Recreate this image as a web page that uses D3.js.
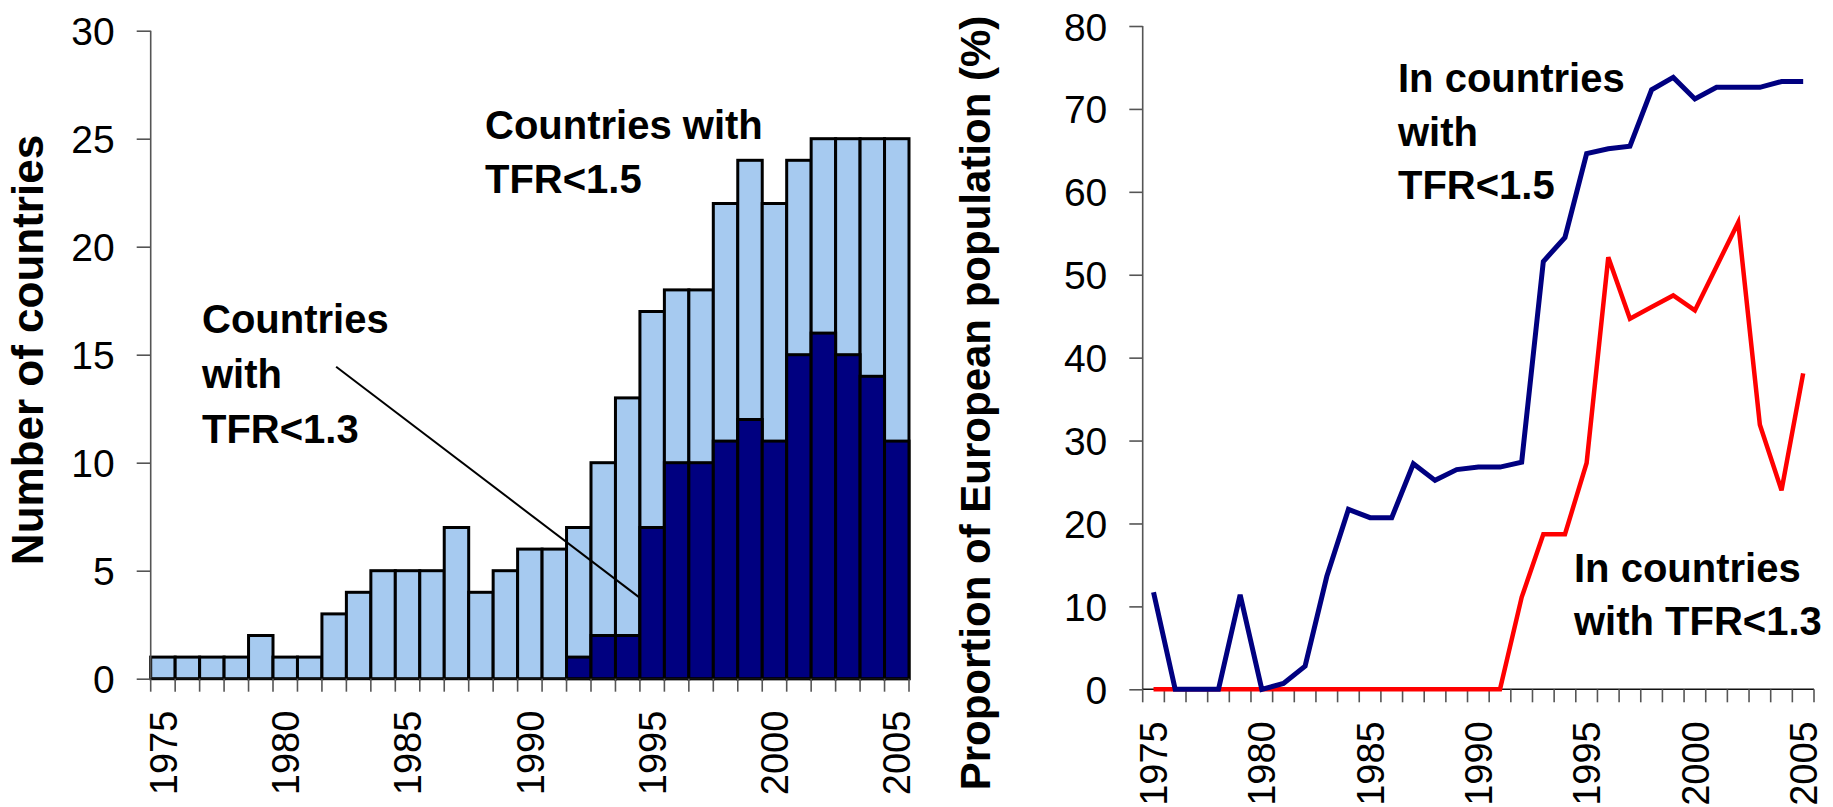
<!DOCTYPE html>
<html><head><meta charset="utf-8">
<script src="https://cdn.jsdelivr.net/npm/d3@7"></script>
<style>
body{margin:0;background:#fff}
svg{display:block}
text{font-family:"Liberation Sans", Arial, sans-serif;fill:#000}
</style>
</head><body>
<svg id="c" width="1833" height="807"></svg>
<script>
// ---------- data ----------
const years = [1975,1976,1977,1978,1979,1980,1981,1982,1983,1984,1985,1986,1987,1988,1989,1990,
               1991,1992,1993,1994,1995,1996,1997,1998,1999,2000,2001,2002,2003,2004,2005];
const yearTickLabels = [1975,1980,1985,1990,1995,2000,2005];
// number of countries
const countriesTFR15 = [1,1,1,1,2,1,1,3,4,5,5,5,7,4,5,6,6,7,10,13,17,18,18,22,24,22,24,25,25,25,25];
const countriesTFR13 = [0,0,0,0,0,0,0,0,0,0,0,0,0,0,0,0,0,1,2,2,7,10,10,11,12,11,15,16,15,14,11];
const countTicks = [0,5,10,15,20,25,30];
// proportion of European population (%)
const popTFR15 = [11.7,0,0,0,11.4,0,0.7,2.8,13.6,21.7,20.7,20.7,27.2,25.2,26.5,26.8,26.8,27.4,
                  51.6,54.5,64.6,65.2,65.5,72.3,73.8,71.2,72.6,72.6,72.6,73.3,73.3];
const popTFR13 = [0,0,0,0,0,0,0,0,0,0,0,0,0,0,0,0,0,11.1,18.7,18.7,27.3,52.1,44.7,46.1,47.5,45.7,
                  51.0,56.3,31.9,24.0,38.1];
const popTicks = [0,10,20,30,40,50,60,70,80];

// ---------- styling ----------
const C = {light:"#A6CAF0", dark:"#000080", blue:"#000080", red:"#FF0000", axis:"#555"};
const YTICK_FS = 39, XTICK_FS = 38, ANN_FS = 40;

const svg = d3.select("#c");

function drawAxes(g, x, y, yTicks, tickLen) {
  // y axis
  const ya = g.append("g").attr("transform", `translate(${x.range()[0]},0)`)
    .call(d3.axisLeft(y).tickValues(yTicks).tickSize(tickLen).tickSizeOuter(0).tickPadding(22));
  ya.selectAll("path,line").attr("stroke", C.axis).attr("stroke-width", 1.6);
  ya.selectAll("text").style("font-size", YTICK_FS + "px").attr("dy", "0.36em");
  ya.select(".domain").remove();
  g.append("line").attr("x1", x.range()[0]).attr("x2", x.range()[0])
    .attr("y1", y(y.domain()[0])).attr("y2", y(y.domain()[1]))
    .attr("stroke", C.axis).attr("stroke-width", 1.6);
  // x axis baseline
  const y0 = y(0);
  g.append("line").attr("x1", x.range()[0]).attr("x2", x.range()[1])
    .attr("y1", y0).attr("y2", y0).attr("stroke", "#111").attr("stroke-width", 1.6);
  // ticks at category boundaries
  const bounds = years.map(d => x(d)).concat([x.range()[1]]);
  g.append("g").selectAll("line").data(bounds).join("line")
    .attr("x1", d => d).attr("x2", d => d).attr("y1", y0).attr("y2", y0 + 13)
    .attr("stroke", C.axis).attr("stroke-width", 1.6);
  // labels
  const xa = g.append("g").attr("transform", `translate(0,${y0})`)
    .call(d3.axisBottom(x).tickValues(yearTickLabels).tickSize(0).tickSizeOuter(0));
  xa.select(".domain").remove();
  xa.selectAll("text").style("font-size", XTICK_FS + "px")
    .attr("transform", "rotate(-90)").attr("x", -32).attr("y", 0).attr("dy", "0.36em")
    .style("text-anchor", "end");
}

// ---------- left chart: bars ----------
const gL = svg.append("g");
const xL = d3.scaleBand().domain(years).range([150.7, 909]).padding(0);
const yL = d3.scaleLinear().domain([0, 30]).range([678.7, 30.7]);

gL.append("g").selectAll("rect").data(years).join("rect")
  .attr("x", d => xL(d)).attr("width", xL.bandwidth())
  .attr("y", (d, i) => yL(countriesTFR15[i]))
  .attr("height", (d, i) => yL(0) - yL(countriesTFR15[i]))
  .attr("fill", C.light).attr("stroke", "#000").attr("stroke-width", 3);
gL.append("g").selectAll("rect").data(years.filter((d, i) => countriesTFR13[i] > 0)).join("rect")
  .attr("x", d => xL(d)).attr("width", xL.bandwidth())
  .attr("y", d => yL(countriesTFR13[years.indexOf(d)]))
  .attr("height", d => yL(0) - yL(countriesTFR13[years.indexOf(d)]))
  .attr("fill", C.dark).attr("stroke", "#000").attr("stroke-width", 3);

drawAxes(gL, xL, yL, countTicks, 14);

gL.append("text").attr("transform", `translate(43,350) rotate(-90)`)
  .attr("text-anchor", "middle").style("font-size", "44px").style("font-weight", "bold")
  .text("Number of countries");

// annotations left
const xPosL = v => xL.range()[0] + (v - 1975) * xL.bandwidth();
function ann(g, x0, baselines, lines) {
  lines.forEach((t, i) => g.append("text").attr("x", x0).attr("y", baselines[i])
    .style("font-size", ANN_FS + "px").style("font-weight", "bold").text(t));
}
ann(gL, 485, [139, 193], ["Countries with", "TFR<1.5"]);
ann(gL, 202, [333, 388, 443], ["Countries", "with", "TFR<1.3"]);
gL.append("line").attr("x1", xPosL(1982.58)).attr("y1", yL(14.44))
  .attr("x2", xPosL(1995)).attr("y2", yL(3.74)).attr("stroke", "#000").attr("stroke-width", 2);

// ---------- right chart: lines ----------
const gR = svg.append("g");
const xR = d3.scaleBand().domain(years).range([1142.7, 1814]).padding(0);
const yR = d3.scaleLinear().domain([0, 80]).range([689.3, 26]);
drawAxes(gR, xR, yR, popTicks, 13.4);

const line = d3.line().x((d, i) => xR(years[i]) + xR.bandwidth() / 2).y(d => yR(d));
gR.append("path").datum(popTFR13).attr("d", line).attr("fill", "none")
  .attr("stroke", C.red).attr("stroke-width", 4.5).attr("stroke-linejoin", "miter");
gR.append("path").datum(popTFR15).attr("d", line).attr("fill", "none")
  .attr("stroke", C.blue).attr("stroke-width", 5).attr("stroke-linejoin", "miter");

gR.append("text").attr("transform", `translate(990,403) rotate(-90)`)
  .attr("text-anchor", "middle").style("font-size", "42px").style("font-weight", "bold")
  .text("Proportion of European population (%)");

ann(gR, 1398, [92, 146, 199], ["In countries", "with", "TFR<1.5"]);
ann(gR, 1574, [582, 635], ["In countries", "with TFR<1.3"]);
</script>
</body></html>
